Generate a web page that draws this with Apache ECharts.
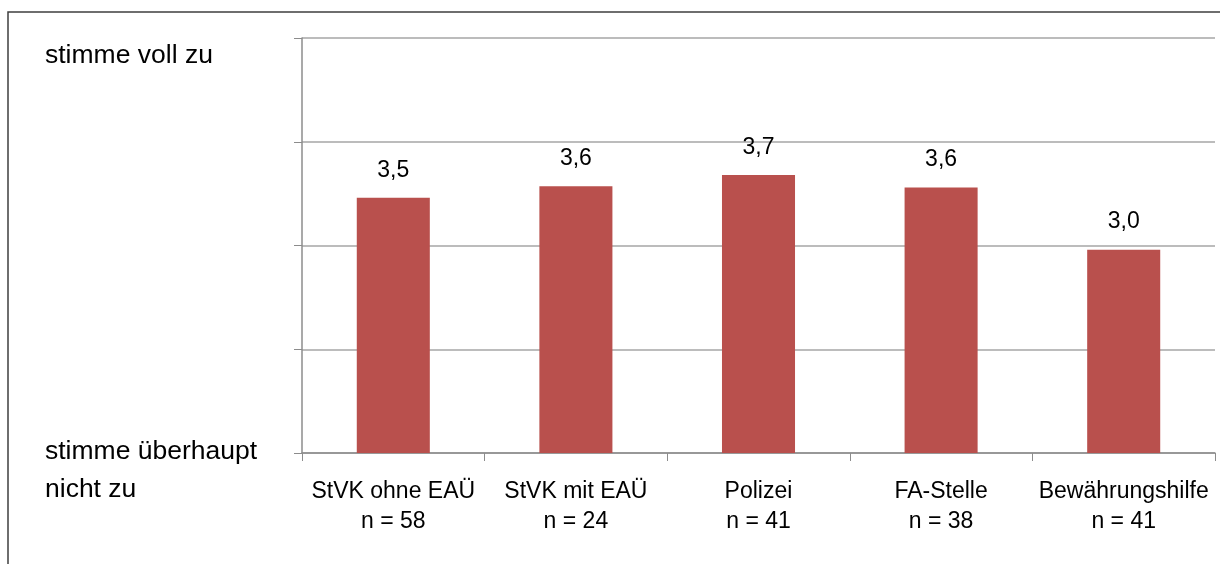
<!DOCTYPE html>
<html>
<head>
<meta charset="utf-8">
<script src="https://cdn.jsdelivr.net/npm/echarts@6/dist/echarts.min.js"></script>
<style>
html,body{margin:0;padding:0;background:#fff;}
#c{width:1220px;height:564px;}
</style>
</head>
<body>
<div id="c"></div>
<script>
const categories = ['StVK ohne EAÜ', 'StVK mit EAÜ', 'Polizei', 'FA-Stelle', 'Bewährungshilfe'];
const sampleSizes = ['n = 58', 'n = 24', 'n = 41', 'n = 38', 'n = 41'];
const values = [3.46, 3.57, 3.68, 3.56, 2.96];
const yTickLabels = { 1: ['stimme überhaupt', 'nicht zu'], 5: ['stimme voll zu'] };

const chart = echarts.init(document.getElementById('c'));
const FONT = 'Liberation Sans';
chart.setOption({
  animation: false,
  backgroundColor: '#fff',
  textStyle: { fontFamily: FONT },
  graphic: [{
    type: 'rect',
    shape: { x: 8, y: 12, width: 1300, height: 700 },
    style: { fill: 'none', stroke: '#3f3f3f', lineWidth: 1.5 },
    silent: true
  }],
  grid: { left: 302, right: 5, top: 38, bottom: 111, containLabel: false },
  xAxis: {
    type: 'category',
    data: categories.map((c, i) => c + '\n' + sampleSizes[i]),
    axisLine: { lineStyle: { color: '#8c8c8c', width: 1.5 } },
    axisTick: { show: true, length: 8, alignWithLabel: false, lineStyle: { color: '#8c8c8c', width: 1 } },
    axisLabel: { color: '#000', fontSize: 23, lineHeight: 30, margin: 24, fontFamily: FONT, interval: 0 }
  },
  yAxis: {
    type: 'value',
    min: 1, max: 5, interval: 1,
    axisLine: { show: true, lineStyle: { color: '#8c8c8c', width: 1.5 } },
    axisTick: { show: true, length: 8, lineStyle: { color: '#8c8c8c' } },
    splitLine: { lineStyle: { color: '#a6a6a6', width: 1.5 } },
    axisLabel: {
      formatter: v => {
        const l = yTickLabels[v];
        if (!l) return '';
        return l.map(s => '{f|' + s + '}').join('\n');
      },
      align: 'left', margin: 257, verticalAlign: 'middle',
      rich: {
        f: { color: '#000', fontSize: 26.5, lineHeight: 38, padding: [36, 0, 0, 0], fontFamily: FONT }
      }
    }
  },
  series: [{
    type: 'bar',
    data: values,
    barCategoryGap: '60%',
    itemStyle: { color: '#b9504d' },
    label: {
      show: true, position: 'top', distance: 16, color: '#000', fontSize: 23, fontFamily: FONT,
      formatter: p => p.value.toFixed(1).replace('.', ',')
    }
  }]
});
</script>
</body>
</html>
